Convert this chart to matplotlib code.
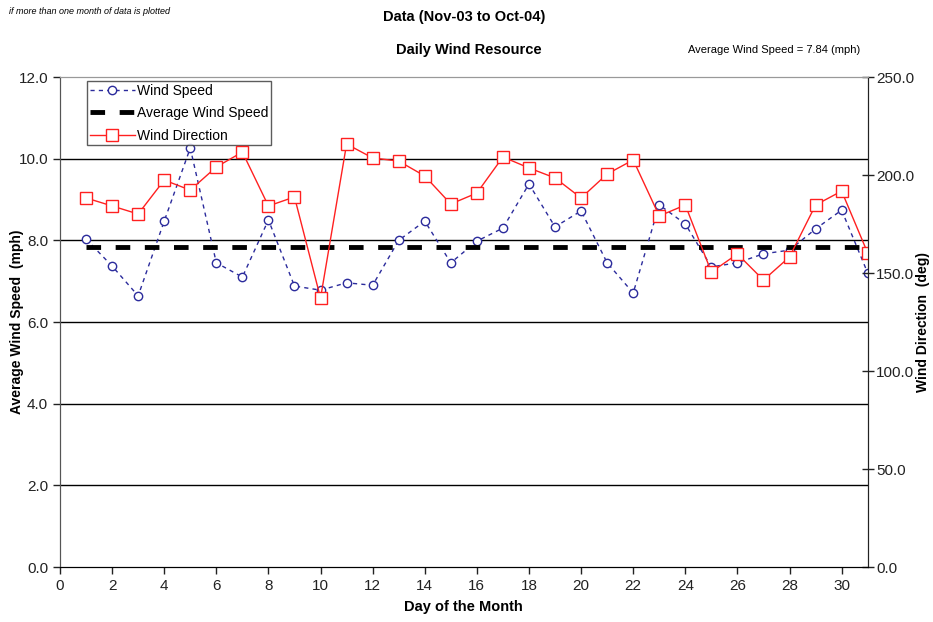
import numpy as np
import matplotlib.pyplot as plt

days = list(range(1, 32))
wind_speed = [8.03, 7.37, 6.64, 8.47, 10.26, 7.45, 7.10, 8.50, 6.88, 6.78,
              6.96, 6.90, 8.00, 8.47, 7.45, 7.98, 8.30, 9.38, 8.33, 8.72,
              7.45, 6.71, 8.87, 8.40, 7.35, 7.45, 7.67, 7.76, 8.28, 8.74, 7.20]
wind_dir = [188.3, 184.2, 180.1, 197.4, 192.3, 204.1, 211.7, 184.2, 188.8, 137.2,
            215.8, 208.7, 207.1, 199.5, 185.2, 190.8, 209.2, 203.6, 198.5, 188.3,
            200.5, 207.7, 179.1, 184.7, 150.5, 159.7, 146.4, 158.2, 184.7, 191.8, 160.2]
avg_speed = 7.84

plt.rcParams['font.family'] = ['Liberation Sans', 'DejaVu Sans']

fig = plt.figure(figsize=(9.33, 6.22), dpi=100)
ax = fig.add_axes([0.0643, 0.0884, 0.8657, 0.7878])
ax2 = ax.twinx()

# gridlines on the left axis only
for g in [2, 4, 6, 8, 10]:
    ax.axhline(g, color='black', lw=1, zorder=0)

l1, = ax.plot(days, wind_speed, color='#2b2b9c', ls=(0, (3, 3)), lw=1,
              marker='o', ms=6, mfc='white', mec='#2b2b9c', mew=1, label='Wind Speed')
l2, = ax.plot([1, 31], [avg_speed, avg_speed], color='black', ls=(0, (3, 3)), lw=3.5,
              label='Average Wind Speed')
l3, = ax2.plot(days, wind_dir, color='#ff2020', lw=1, marker='s', ms=8,
               mfc='white', mec='#ff2020', mew=1, label='Wind Direction')

ax.set_xlim(0, 31)
ax.set_ylim(0, 12)
ax2.set_ylim(0, 250)
ax.set_xticks(range(0, 31, 2))
ax.set_yticks(np.arange(0, 12.1, 2))
ax.set_yticklabels([f'{v:.1f}' for v in np.arange(0, 12.1, 2)])
ax2.set_yticks(range(0, 251, 50))
ax2.set_yticklabels([f'{v:.1f}' for v in range(0, 251, 50)])

for a in (ax, ax2):
    a.tick_params(labelsize=11, length=5, width=1, colors='#222222')
    a.spines['top'].set_color('#999999')
    a.spines['left'].set_color('#555555')
    a.spines['right'].set_color('#222222')
ax2.tick_params(axis='y', direction='inout', length=8, pad=2)

ax.set_xlabel('Day of the Month', fontsize=10.5, fontweight='bold', labelpad=5)
ax.set_ylabel('Average Wind Speed  (mph)', fontsize=10, fontweight='bold', labelpad=-4)
ax2.set_ylabel('Wind Direction  (deg)', fontsize=10, fontweight='bold', labelpad=1)

leg = ax.legend(handles=[l1, l2, l3], loc='upper left', bbox_to_anchor=(0.028, 1.0),
                fontsize=10, frameon=True, fancybox=False, edgecolor='#333333',
                borderpad=0.2, labelspacing=0.6, handlelength=3.3, handletextpad=0.1,
                borderaxespad=0.3)
leg.get_frame().set_linewidth(1)
leg.set_zorder(10)

fig.text(0.497, 0.972, 'Data (Nov-03 to Oct-04)', ha='center', va='center',
         fontsize=10.5, fontweight='bold')
fig.text(0.502, 0.919, 'Daily Wind Resource', ha='center', va='center',
         fontsize=10.5, fontweight='bold')
fig.text(0.83, 0.919, 'Average Wind Speed = 7.84 (mph)', ha='center', va='center',
         fontsize=8)
fig.text(0.01, 0.981, 'if more than one month of data is plotted', ha='left', va='center',
         fontsize=6.5, style='italic')

fig.savefig('out.png', dpi=100)
